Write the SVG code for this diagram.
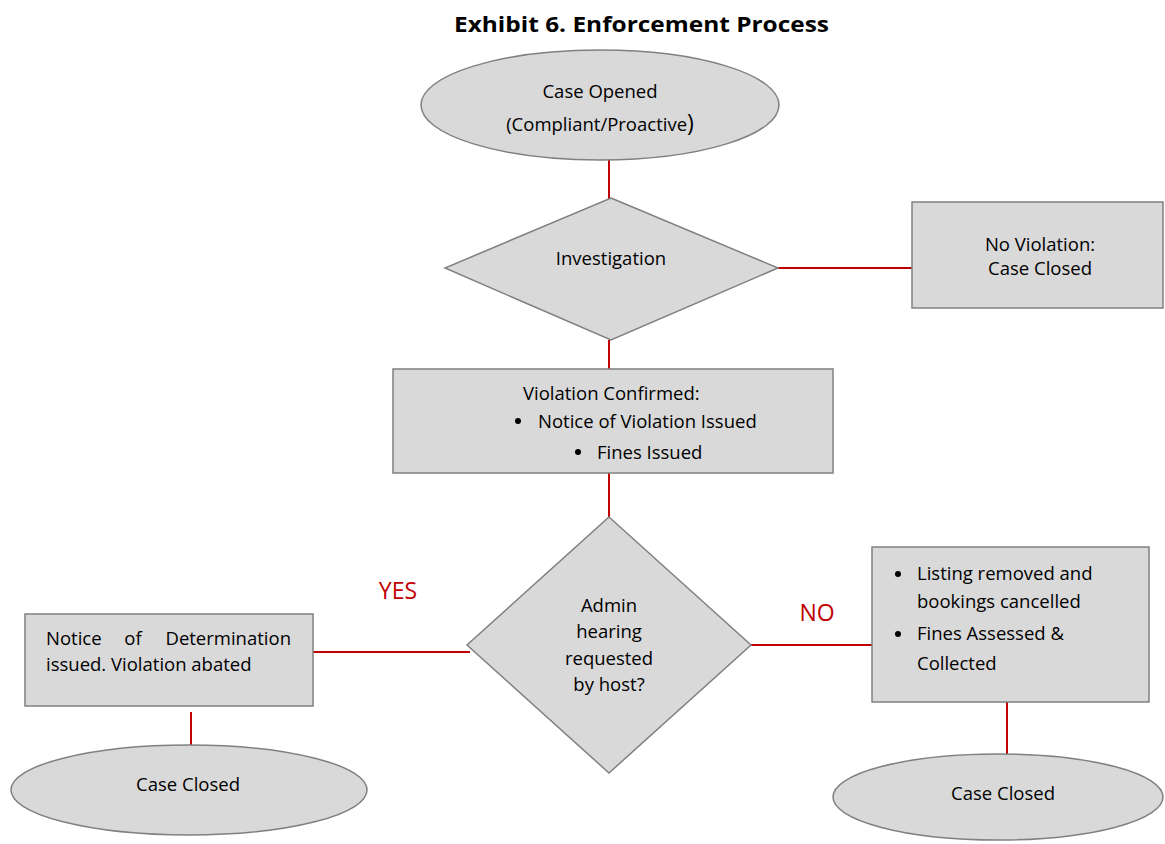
<svg xmlns="http://www.w3.org/2000/svg" width="1165" height="844" viewBox="0 0 1165 844">
<style>
.shape{fill:#d9d9d9;stroke:#808080;stroke-width:1.5}
.conn{stroke:#c00000;stroke-width:2;fill:none}
text{font-family:"Open Sans","Liberation Sans",sans-serif;font-size:18.5px;fill:#000}
.c{text-anchor:middle}
.title{font-weight:bold;font-size:22px}
.lbl{fill:#c00000;font-size:23px}
</style>
<rect width="1165" height="844" fill="#fff"/>
<text class="title" x="454" y="32" textLength="375" lengthAdjust="spacingAndGlyphs">Exhibit 6. Enforcement Process</text>
<g id="connectors">
<line class="conn" x1="609" y1="160" x2="609" y2="199"/>
<line class="conn" x1="778" y1="268" x2="912" y2="268"/>
<line class="conn" x1="609" y1="340" x2="609" y2="369"/>
<line class="conn" x1="609" y1="473" x2="609" y2="517"/>
<line class="conn" x1="313" y1="652" x2="470" y2="652"/>
<line class="conn" x1="751" y1="645" x2="872" y2="645"/>
<line class="conn" x1="191" y1="712" x2="191" y2="745"/>
<line class="conn" x1="1007" y1="702" x2="1007" y2="755"/>
<text class="lbl c" x="398" y="599">YES</text>
<text class="lbl c" x="817" y="621">NO</text>
</g>
<g id="case-opened">
<ellipse class="shape" cx="600" cy="105" rx="179" ry="55"/>
<text class="c" x="600" y="98">Case Opened</text>
<text class="c" x="600" y="131">(Compliant/Proactive<tspan font-size="23">)</tspan></text>
</g>
<g id="investigation">
<polygon class="shape" points="611,198 778,268 611,340 445,268"/>
<text class="c" x="611" y="265">Investigation</text>
</g>
<g id="no-violation">
<rect class="shape" x="912" y="202" width="251" height="106"/>
<text class="c" x="1040" y="251">No Violation:</text>
<text class="c" x="1040" y="275">Case Closed</text>
</g>
<g id="violation-confirmed">
<rect class="shape" x="393" y="369" width="440" height="104"/>
<text x="523" y="400">Violation Confirmed:</text>
<circle cx="518" cy="421" r="3"/>
<text x="538" y="428">Notice of Violation Issued</text>
<circle cx="578" cy="452" r="3"/>
<text x="597" y="459">Fines Issued</text>
</g>
<g id="admin-hearing">
<polygon class="shape" points="609,517 751,645 609,773 467,645"/>
<text class="c" x="609" y="612">Admin</text>
<text class="c" x="609" y="638">hearing</text>
<text class="c" x="609" y="665">requested</text>
<text class="c" x="609" y="691">by host?</text>
</g>
<g id="notice-determination">
<rect class="shape" x="25" y="614" width="288" height="92"/>
<text x="46" y="645">Notice</text>
<text x="133" y="645" text-anchor="middle">of</text>
<text x="291" y="645" text-anchor="end">Determination</text>
<text x="46" y="671">issued. Violation abated</text>
</g>
<g id="case-closed-left">
<ellipse class="shape" cx="189" cy="790" rx="178" ry="45"/>
<text class="c" x="188" y="791">Case Closed</text>
</g>
<g id="listing-removed">
<rect class="shape" x="872" y="547" width="277" height="155"/>
<circle cx="898" cy="574" r="3"/>
<text x="917" y="580">Listing removed and</text>
<text x="917" y="608">bookings cancelled</text>
<circle cx="898" cy="634" r="3"/>
<text x="917" y="640">Fines Assessed &amp;</text>
<text x="917" y="670">Collected</text>
</g>
<g id="case-closed-right">
<ellipse class="shape" cx="998" cy="797" rx="165" ry="43"/>
<text class="c" x="1003" y="800">Case Closed</text>
</g>
</svg>
